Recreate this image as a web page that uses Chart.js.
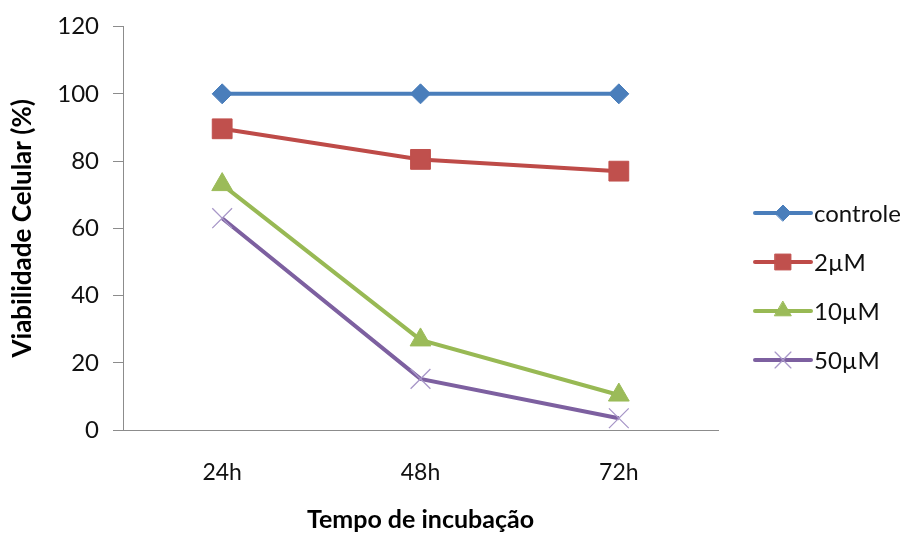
<!DOCTYPE html>
<html>
<head>
<meta charset="utf-8">
<script src="https://cdn.jsdelivr.net/npm/chart.js@4/dist/chart.umd.min.js"></script>
<style>
  html, body { margin: 0; padding: 0; background: #ffffff; }
  #wrap { width: 906px; height: 537px; }
</style>
</head>
<body>
<div id="wrap"><canvas id="c" width="906" height="537"></canvas></div>
<script>
// Incubation times (x categories)
const categories = ['24h', '48h', '72h'];
// Cell viability (%) per concentration
const controle = [100, 100, 100];
const conc2uM = [89.6, 80.5, 77.0];
const conc10uM = [73.0, 26.8, 10.4];
const conc50uM = [63.0, 15.2, 3.5];
const seriesNames = ['controle', '2\u00b5M', '10\u00b5M', '50\u00b5M'];

const FONT = 'Lato, "Open Sans", "DejaVu Sans", sans-serif';

const styles = [
  { line: '#4A7EBB', fill: '#4A7EBB', border: '#4A7EBB', point: 'rectRot', r: 10, bw: 1 },
  { line: '#BE4B48', fill: '#C0504D', border: '#C0504D', point: 'rect', r: 14, bw: 1 },
  { line: '#98B954', fill: '#9BBB59', border: '#9BBB59', point: 'triangle', r: 12, bw: 1 },
  { line: '#7D60A0', fill: '#7D60A0', border: '#A897C8', point: 'crossRot', r: 14, bw: 1.3 }
];
const values = [controle, conc2uM, conc10uM, conc50uM];

const datasets = values.map((v, i) => ({
  label: seriesNames[i],
  data: v,
  borderColor: styles[i].line,
  borderWidth: 4,
  backgroundColor: styles[i].fill,
  pointStyle: styles[i].point,
  pointRadius: styles[i].r,
  pointHoverRadius: styles[i].r,
  pointBackgroundColor: styles[i].fill,
  pointBorderColor: styles[i].border,
  pointBorderWidth: styles[i].bw,
  tension: 0,
  fill: false
}));

// Legend drawn at the right: short line with the series marker, then the name
const sideLegend = {
  id: 'sideLegend',
  afterDraw(chart) {
    const ctx = chart.ctx;
    const x0 = 755, x1 = 811, tx = 814;
    const ys = [213, 262, 311, 360];
    ctx.save();
    chart.data.datasets.forEach((ds, i) => {
      const y = ys[i];
      ctx.strokeStyle = ds.borderColor;
      ctx.lineWidth = 4;
      ctx.lineCap = 'round';
      ctx.beginPath();
      ctx.moveTo(x0, y);
      ctx.lineTo(x1, y);
      ctx.stroke();
      ctx.fillStyle = ds.pointBackgroundColor;
      ctx.strokeStyle = ds.pointBorderColor;
      ctx.lineWidth = ds.pointBorderWidth;
      Chart.helpers.drawPoint(ctx, { pointStyle: ds.pointStyle, radius: ds.pointRadius * 0.8, rotation: 0, borderWidth: ds.pointBorderWidth }, (x0 + x1) / 2, y);
      ctx.fillStyle = '#111111';
      ctx.font = '24px ' + FONT;
      ctx.textBaseline = 'middle';
      ctx.textAlign = 'left';
      ctx.fillText(ds.label, tx, y + 1);
    });
    ctx.restore();
  }
};

new Chart(document.getElementById('c'), {
  type: 'line',
  data: { labels: categories, datasets },
  plugins: [sideLegend],
  options: {
    responsive: false,
    animation: false,
    events: [],
    layout: { padding: { top: 26, right: 188, left: 0, bottom: 0 } },
    plugins: { legend: { display: false }, tooltip: { enabled: false } },
    scales: {
      x: {
        offset: true,
        grid: { display: true, drawOnChartArea: false, drawTicks: false, offset: true },
        border: { display: true, color: '#8c8c8c', width: 1 },
        ticks: { color: '#111111', font: { family: FONT, size: 23 }, padding: 29 },
        title: { display: true, text: 'Tempo de incubação', color: '#000000', font: { family: FONT, size: 25, weight: 'bold' }, padding: { top: 0, bottom: 2 } },
        afterFit(s) { s.height = 107; }
      },
      y: {
        min: 0, max: 120,
        ticks: { stepSize: 20, color: '#111111', font: { family: FONT, size: 24, lineHeight: 1.05 }, padding: 14 },
        grid: { display: true, drawOnChartArea: false, drawTicks: true, tickLength: 10, color: '#8c8c8c' },
        border: { display: true, color: '#8c8c8c', width: 1 },
        title: { display: true, text: 'Viabilidade Celular (%)', color: '#000000', font: { family: FONT, size: 26, weight: 'bold' }, padding: { top: 7, bottom: 0 } },
        afterFit(s) { s.width = 123; }
      }
    }
  }
});
</script>
</body>
</html>
